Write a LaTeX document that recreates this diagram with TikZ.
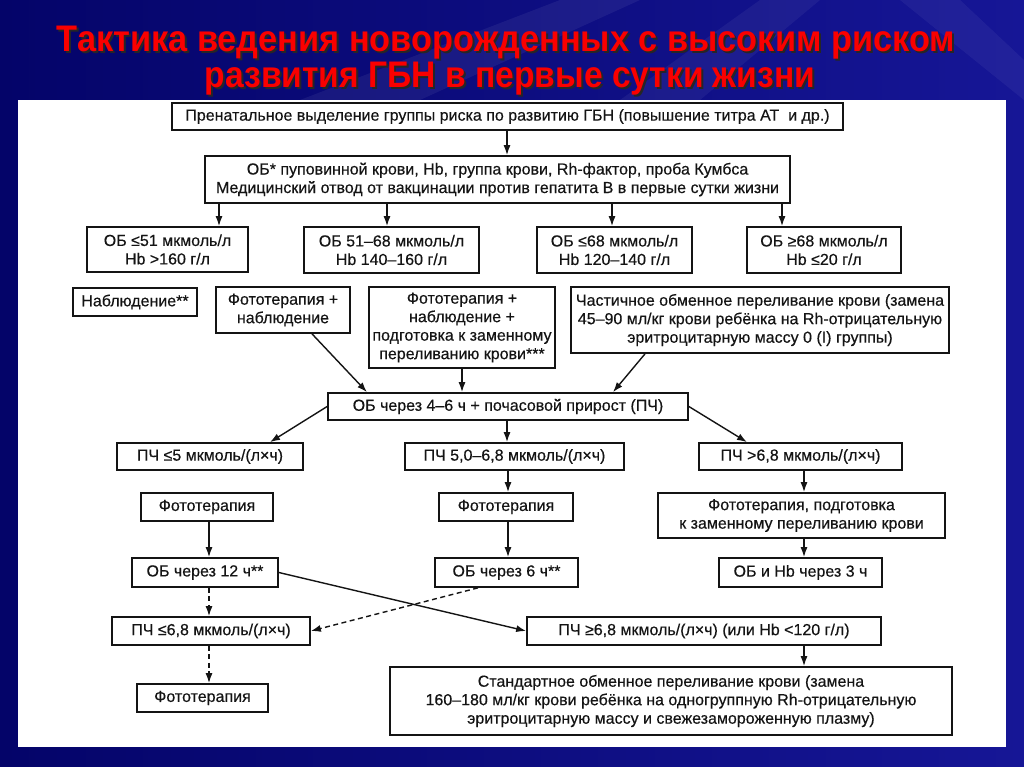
\documentclass[tikz,border=0pt]{standalone}
\usepackage{fontspec}
\setmainfont{Liberation Sans}
\newfontfamily\bodyfont[FakeBold=0.35]{Liberation Sans}
\newfontfamily\titlefont{Liberation Sans}
\usetikzlibrary{arrows.meta,calc}
\definecolor{bgdark}{RGB}{4,4,105}
\definecolor{bglight}{RGB}{22,22,150}
\definecolor{ink}{RGB}{20,20,20}
\definecolor{titlered}{RGB}{250,0,0}
\newcommand\ttlline[1]{\titlefont\bfseries\fontsize{37}{40}\selectfont #1}
\newcommand\bxn[6]{\node[bx, minimum width=#4, minimum height=#5] (#1) at (#2,#3) {#6};}
\begin{document}
\begin{tikzpicture}[x=1pt,y=-1pt,
  bx/.style={draw=ink, line width=1.7pt, fill=white, inner sep=0pt, align=center,
    text=ink, font=\bodyfont\fontsize{16}{18.5}\selectfont},
  arr/.style={-{Latex[length=10pt,width=7pt]}, line width=1.4pt, draw=ink},
  dsh/.style={arr, dash pattern=on 5pt off 3.5pt},
  ttl/.style={inner sep=0pt, anchor=base}]
\useasboundingbox (0,0) rectangle (1024,767);
% background
\shade[left color=bgdark, right color=bglight] (0,0) rectangle (1024,767);
\fill[white, opacity=0.06] (560,0) -- (640,0) -- (420,100) -- (300,100) -- cycle;
\fill[white, opacity=0.05] (760,0) -- (820,0) -- (700,100) -- (620,100) -- cycle;
\fill[white, opacity=0.05] (900,0) -- (960,0) -- (1024,60) -- (1024,100) -- cycle;
\fill[white] (18,100) rectangle (1006,747);
% title
\node[ttl, text=black!85] (t1s) at (508,54) {\resizebox{898pt}{\height}{\ttlline{Тактика ведения новорожденных с высоким риском}}};
\node[ttl, text=titlered] (t1) at (506,52) {\resizebox{898pt}{\height}{\ttlline{Тактика ведения новорожденных с высоким риском}}};
\node[ttl, text=black!85] (t2s) at (512,90) {\resizebox{610pt}{\height}{\ttlline{развития ГБН в первые сутки жизни}}};
\node[ttl, text=titlered] (t2) at (510,88) {\resizebox{610pt}{\height}{\ttlline{развития ГБН в первые сутки жизни}}};
% boxes
\bxn{pren}{507.5}{116.5}{671pt}{27pt}{Пренатальное выделение группы риска по развитию ГБН (повышение титра АТ\ \ и др.)}
\bxn{ob}{497.5}{179.5}{585pt}{47pt}{ОБ* пуповинной крови, Hb, группа крови, Rh-фактор, проба Кумбса\\Медицинский отвод от вакцинации против гепатита В в первые сутки жизни}
\bxn{A}{167.5}{249.5}{161pt}{45pt}{ОБ ≤51 мкмоль/л\\Hb >160 г/л}
\bxn{B}{391.5}{250}{175pt}{46pt}{ОБ 51–68 мкмоль/л\\Hb 140–160 г/л}
\bxn{C}{614.5}{250}{155pt}{46pt}{ОБ ≤68 мкмоль/л\\Hb 120–140 г/л}
\bxn{D}{824}{250}{154pt}{46pt}{ОБ ≥68 мкмоль/л\\Hb ≤20 г/л}
\bxn{nabl}{135}{302}{124pt}{28pt}{Наблюдение**}
\bxn{fotoa}{283}{310}{134pt}{46pt}{Фототерапия +\\наблюдение}
\bxn{fotob}{462}{327.5}{186pt}{81pt}{Фототерапия +\\наблюдение +\\подготовка к заменному\\переливанию крови***}
\bxn{chast}{760}{320}{378pt}{66pt}{Частичное обменное переливание крови (замена\\45–90 мл/кг крови ребёнка на Rh-отрицательную\\эритроцитарную массу 0 (I) группы)}
\bxn{obh}{508}{406.5}{360pt}{27pt}{ОБ через 4–6 ч + почасовой прирост (ПЧ)}
\bxn{pcha}{210}{456.5}{186pt}{27pt}{ПЧ ≤5 мкмоль/(л×ч)}
\bxn{pchb}{514.5}{456.5}{219pt}{27pt}{ПЧ 5,0–6,8 мкмоль/(л×ч)}
\bxn{pchc}{800.5}{456.5}{203pt}{27pt}{ПЧ >6,8 мкмоль/(л×ч)}
\bxn{fotoL}{207}{507}{132pt}{28pt}{Фототерапия}
\bxn{fotoM}{506}{507}{134pt}{28pt}{Фототерапия}
\bxn{fotoR}{801.5}{515.5}{287pt}{45pt}{Фототерапия, подготовка\\к заменному переливанию крови}
\bxn{obtw}{205}{572.5}{146pt}{29pt}{ОБ через 12 ч**}
\bxn{obsix}{506.5}{572.5}{143pt}{29pt}{ОБ через 6 ч**}
\bxn{obthr}{800.5}{572.5}{163pt}{29pt}{ОБ и Hb через 3 ч}
\bxn{pchle}{211}{631}{198pt}{28pt}{ПЧ ≤6,8 мкмоль/(л×ч)}
\bxn{pchge}{704}{631}{354pt}{28pt}{ПЧ ≥6,8 мкмоль/(л×ч) (или Hb <120 г/л)}
\bxn{std}{671}{701}{562pt}{68pt}{Стандартное обменное переливание крови (замена\\160–180 мл/кг крови ребёнка на одногруппную Rh-отрицательную\\эритроцитарную массу и свежезамороженную плазму)}
\bxn{fotoB}{202.5}{698}{131pt}{28pt}{Фототерапия}
% columns
\coordinate (c0) at (507,0);
\coordinate (ca) at (219,0);
\coordinate (cb) at (387,0);
\coordinate (cc) at (612,0);
\coordinate (cd) at (782,0);
\coordinate (cL) at (209,0);
\coordinate (cM) at (508,0);
\coordinate (cR) at (804,0);
% connectors
\draw[arr] (c0 |- pren.south) -- (c0 |- ob.north);
\draw[arr] (ca |- ob.south) -- (ca |- A.north);
\draw[arr] (cb |- ob.south) -- (cb |- B.north);
\draw[arr] (cc |- ob.south) -- (cc |- C.north);
\draw[arr] (cd |- ob.south) -- (cd |- D.north);
\draw[arr] ([xshift=29pt]fotoa.south) -- ([xshift=-141pt]obh.north);
\draw[arr] (fotob.south) -- (fotob.south |- obh.north);
\draw[arr] ([xshift=-115pt]chast.south) -- ([xshift=105pt]obh.north);
\draw[arr] (obh.west) -- ([xshift=60pt]pcha.north);
\draw[arr] (c0 |- obh.south) -- (c0 |- pchb.north);
\draw[arr] (obh.east) -- ([xshift=-53.5pt]pchc.north);
\draw[arr] (cM |- pchb.south) -- (cM |- fotoM.north);
\draw[arr] (cL |- fotoL.south) -- (cL |- obtw.north);
\draw[arr] (cM |- fotoM.south) -- (cM |- obsix.north);
\draw[arr] (cR |- pchc.south) -- (cR |- fotoR.north);
\draw[arr] (cR |- fotoR.south) -- (cR |- obthr.north);
\draw[arr] (obtw.east) -- (pchge.west);
\draw[dsh] (cL |- obtw.south) -- (cL |- pchle.north);
\draw[dsh] ([xshift=-28.5pt]obsix.south) -- (pchle.east);
\draw[dsh] (cL |- pchle.south) -- (cL |- fotoB.north);
\draw[arr] (cR |- pchge.south) -- (cR |- std.north);
\end{tikzpicture}
\end{document}
